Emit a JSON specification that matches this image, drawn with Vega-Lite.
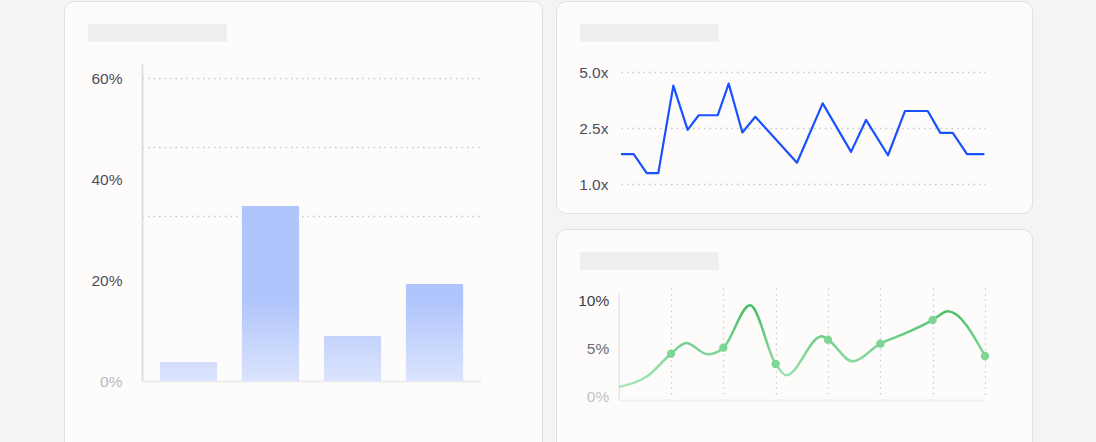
{
  "$schema": "https://vega.github.io/schema/vega-lite/v6.json",
  "background": "#f4f4f4",
  "padding": {"left": 63, "top": 0, "right": 65, "bottom": 0},
  "spacing": 12,
  "config": {
    "view": {"fill": "#fdfcfb", "stroke": "#e0e0e0", "strokeWidth": 1, "cornerRadius": 10},
    "axis": {
      "labelFont": "Liberation Sans",
      "labelFontSize": 15.5,
      "ticks": false,
      "title": null,
      "grid": false,
      "domainColor": "#e2e2e6",
      "domainWidth": 1.5
    },
    "title": {
      "font": "DejaVu Sans",
      "fontSize": 15,
      "color": "#efefef",
      "anchor": "start",
      "frame": "group",
      "baseline": "top",
      "offset": 0,
      "dx": 24,
      "dy": 44
    }
  },
  "hconcat": [
    {
      "width": 478,
      "height": 456,
      "title": {"text": "████████████"},
      "data": {
        "values": [
          {"bucket": "A", "share": 3.8},
          {"bucket": "B", "share": 34.7},
          {"bucket": "C", "share": 8.9},
          {"bucket": "D", "share": 19.2}
        ]
      },
      "resolve": {"axis": {"y": "independent"}},
      "encoding": {
        "x": {
          "field": "bucket",
          "type": "nominal",
          "scale": {"domain": ["A", "B", "C", "D"], "range": [78, 417], "paddingInner": 0.293, "paddingOuter": 0.213},
          "axis": {"orient": "bottom", "offset": -76, "labels": false, "domainColor": "#ececef", "domainWidth": 2}
        }
      },
      "layer": [
        {
          "transform": [{"filter": "datum.bucket == 'A'"}],
          "mark": {
            "type": "bar",
            "cornerRadiusTopLeft": 2,
            "cornerRadiusTopRight": 2,
            "color": {"gradient": "linear", "x1": 0, "y1": 0, "x2": 0, "y2": 1,
              "stops": [{"offset": 0, "color": "#d3ddfc"}, {"offset": 1, "color": "#dbe4fd"}]}
          },
          "encoding": {
            "y": {
              "field": "share",
              "type": "quantitative",
              "scale": {"domain": [0, 62.8], "range": [380, 63], "nice": false},
              "axis": {
                "orient": "left",
                "offset": -78,
                "values": [0, 20, 40, 60],
                "labelExpr": "datum.value + '%'",
                "labelPadding": 20,
                "domainColor": "#dcdde2",
                "domainWidth": 2,
                "labelColor": {"condition": {"test": "datum.value == 0", "value": "#b9b9c0"}, "value": "#4e4e5e"}
              }
            }
          }
        },
        {
          "transform": [{"filter": "datum.bucket == 'B'"}],
          "mark": {
            "type": "bar",
            "cornerRadiusTopLeft": 2,
            "cornerRadiusTopRight": 2,
            "color": {"gradient": "linear", "x1": 0, "y1": 0, "x2": 0, "y2": 1,
              "stops": [{"offset": 0, "color": "#b0c5fc"}, {"offset": 0.537, "color": "#b0c5fc"}, {"offset": 1, "color": "#dbe4fd"}]}
          },
          "encoding": {
            "y": {
              "field": "share",
              "type": "quantitative",
              "scale": {"domain": [0, 62.8], "range": [380, 63], "nice": false},
              "axis": {
                "orient": "left",
                "offset": -78,
                "values": [32.7, 46.3, 60],
                "labels": false,
                "domain": false,
                "grid": true,
                "gridDash": [1.5, 4],
                "gridColor": "#c6c7ce",
                "gridWidth": 1.3
              }
            }
          }
        },
        {
          "transform": [{"filter": "datum.bucket == 'C'"}],
          "mark": {
            "type": "bar",
            "cornerRadiusTopLeft": 2,
            "cornerRadiusTopRight": 2,
            "color": {"gradient": "linear", "x1": 0, "y1": 0, "x2": 0, "y2": 1,
              "stops": [{"offset": 0, "color": "#c4d3fc"}, {"offset": 1, "color": "#dbe4fd"}]}
          },
          "encoding": {
            "y": {
              "field": "share",
              "type": "quantitative",
              "scale": {"domain": [0, 62.8], "range": [380, 63], "nice": false},
              "axis": null
            }
          }
        },
        {
          "transform": [{"filter": "datum.bucket == 'D'"}],
          "mark": {
            "type": "bar",
            "cornerRadiusTopLeft": 2,
            "cornerRadiusTopRight": 2,
            "color": {"gradient": "linear", "x1": 0, "y1": 0, "x2": 0, "y2": 1,
              "stops": [{"offset": 0, "color": "#b0c5fc"}, {"offset": 0.165, "color": "#b0c5fc"}, {"offset": 1, "color": "#dbe4fd"}]}
          },
          "encoding": {
            "y": {
              "field": "share",
              "type": "quantitative",
              "scale": {"domain": [0, 62.8], "range": [380, 63], "nice": false},
              "axis": null
            }
          }
        }
      ]
    },
    {
      "spacing": 14,
      "vconcat": [
        {
          "width": 476,
          "height": 212,
          "title": {"text": "████████████"},
          "data": {
            "values": [
              {"t": 0, "mult": 1.8},
              {"t": 1.01, "mult": 1.8},
              {"t": 2.05, "mult": 1.29},
              {"t": 2.97, "mult": 1.29},
              {"t": 4.17, "mult": 4.39},
              {"t": 5.31, "mult": 2.45},
              {"t": 6.19, "mult": 3.07},
              {"t": 7.71, "mult": 3.07},
              {"t": 8.58, "mult": 4.48},
              {"t": 9.67, "mult": 2.38},
              {"t": 10.7, "mult": 3.0},
              {"t": 14.02, "mult": 1.57},
              {"t": 16.07, "mult": 3.6},
              {"t": 18.33, "mult": 1.86},
              {"t": 19.52, "mult": 2.86},
              {"t": 21.27, "mult": 1.77},
              {"t": 22.63, "mult": 3.26},
              {"t": 24.44, "mult": 3.26},
              {"t": 25.44, "mult": 2.37},
              {"t": 26.43, "mult": 2.37},
              {"t": 27.57, "mult": 1.8},
              {"t": 28.95, "mult": 1.8}
            ]
          },
          "mark": {"type": "line", "color": "#1852ff", "strokeWidth": 2.2, "strokeJoin": "round"},
          "encoding": {
            "x": {
              "field": "t",
              "type": "quantitative",
              "scale": {"domain": [0, 29], "range": [65, 429], "nice": false, "zero": false},
              "axis": null
            },
            "y": {
              "field": "mult",
              "type": "quantitative",
              "scale": {"domain": [1, 2.5, 5], "range": [183, 127, 71], "nice": false, "zero": false},
              "axis": {
                "orient": "left",
                "offset": -65,
                "values": [1, 2.5, 5],
                "labelExpr": "format(datum.value, '.1f') + 'x'",
                "labelPadding": 13,
                "labelColor": "#4e4e5e",
                "domain": false,
                "grid": true,
                "gridDash": [1.5, 4],
                "gridColor": "#c6c7ce",
                "gridWidth": 1.3
              }
            }
          }
        },
        {
          "width": 476,
          "height": 230,
          "title": {"text": "████████████"},
          "data": {
            "values": [
              {"day": 0, "rate": 0.98, "dot": false},
              {"day": 0.55, "rate": 2.13, "dot": false},
              {"day": 1, "rate": 4.47, "dot": true},
              {"day": 1.29, "rate": 5.6, "dot": false},
              {"day": 1.7, "rate": 4.4, "dot": false},
              {"day": 2, "rate": 5.1, "dot": true},
              {"day": 2.51, "rate": 9.55, "dot": false},
              {"day": 3, "rate": 3.39, "dot": true},
              {"day": 3.2, "rate": 2.2, "dot": false},
              {"day": 3.88, "rate": 6.3, "dot": false},
              {"day": 4, "rate": 5.94, "dot": true},
              {"day": 4.47, "rate": 3.67, "dot": false},
              {"day": 5, "rate": 5.52, "dot": true},
              {"day": 5.46, "rate": 6.57, "dot": false},
              {"day": 6, "rate": 8.0, "dot": true},
              {"day": 6.29, "rate": 8.92, "dot": false},
              {"day": 7, "rate": 4.23, "dot": true}
            ]
          },
          "encoding": {
            "x": {
              "field": "day",
              "type": "quantitative",
              "scale": {"domain": [0, 7], "range": [62.7, 429], "nice": false, "zero": false},
              "axis": {
                "orient": "bottom",
                "offset": -58.9,
                "values": [1, 2, 3, 4, 5, 6, 7],
                "labels": false,
                "grid": true,
                "gridDash": [1.5, 4],
                "gridColor": "#cbccd2",
                "gridWidth": 1.3,
                "domainColor": "#f1f1f3",
                "domainWidth": 2
              }
            },
            "y": {
              "field": "rate",
              "type": "quantitative",
              "scale": {"domain": [-0.4, 10.9], "range": [171.1, 63.4], "nice": false, "zero": false},
              "axis": {
                "orient": "left",
                "offset": -62.7,
                "values": [0, 5, 10],
                "labelExpr": "datum.value + '%'",
                "labelPadding": 10,
                "domainColor": "#e6e6ea",
                "domainWidth": 1.5,
                "labelColor": {
                  "condition": [
                    {"test": "datum.value >= 10", "value": "#3c3c4a"},
                    {"test": "datum.value >= 5", "value": "#6c6c78"}
                  ],
                  "value": "#c2c2c8"
                }
              }
            }
          },
          "layer": [
            {
              "mark": {
                "type": "line",
                "interpolate": "monotone",
                "strokeWidth": 2.5,
                "color": {"gradient": "linear", "x1": 0, "y1": 0, "x2": 0, "y2": 1,
                  "stops": [{"offset": 0, "color": "#45bd66"}, {"offset": 1, "color": "#aae6b9"}]}
              }
            },
            {
              "transform": [{"filter": "datum.dot"}],
              "mark": {"type": "point", "filled": true, "size": 70, "color": "#7dd596", "opacity": 1}
            }
          ]
        }
      ]
    }
  ]
}
